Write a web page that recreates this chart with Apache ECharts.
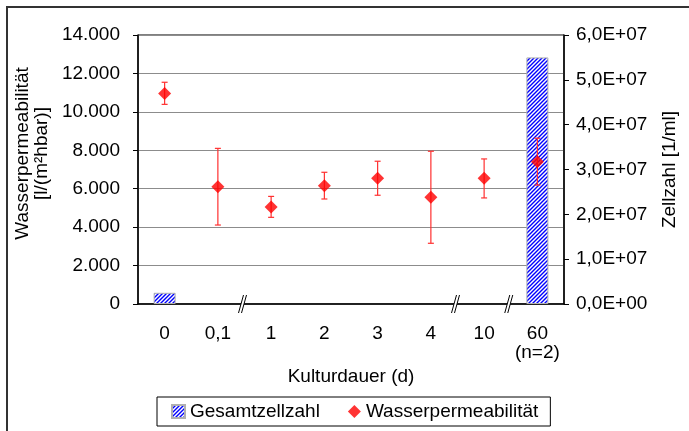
<!DOCTYPE html>
<html>
<head>
    <meta charset="utf-8">
    <title>Kulturdauer</title>
    <script type="text/javascript" src="https://cdn.jsdelivr.net/npm/echarts@6/dist/echarts.min.js"></script>
    <style>
        body { margin: 0; background: #fff; }
        #main { width: 689px; height: 431px; }
    </style>
</head>
<body>
    <div id="main"></div>
    <script type="text/javascript">
        // culture days on the x axis
        var categories = ['0', '0,1', '1', '2', '3', '4', '10', '60\n(n=2)'];
        // water permeability, mean and error bar ends
        var permeability = [10950, 6100, 5050, 6150, 6550, 5550, 6550, 7400];
        var permLow = [10390, 4110, 4510, 5465, 5660, 3160, 5520, 6190];
        var permHigh = [11540, 8100, 5600, 6855, 7430, 7950, 7550, 8630];
        // total cell count (right axis)
        var cellCount = [2.5e6, '-', '-', '-', '-', '-', '-', 5.5e7];
        // axis breaks sit after these category indexes
        var breaks = [1, 5, 6];

        var FONT = 'Liberation Sans, Arial, sans-serif';
        var FS = 19;

        // blue diagonal hatching like the excel fill
        function hatch() {
            var c = document.createElement('canvas');
            c.width = 4; c.height = 4;
            var ctx = c.getContext('2d');
            ctx.fillStyle = '#fff';
            ctx.fillRect(0, 0, 4, 4);
            ctx.strokeStyle = '#0000ff';
            ctx.lineWidth = 1.4;
            ctx.beginPath();
            ctx.moveTo(0, 4); ctx.lineTo(4, 0);
            ctx.moveTo(-1, 1); ctx.lineTo(1, -1);
            ctx.moveTo(3, 5); ctx.lineTo(5, 3);
            ctx.stroke();
            return c;
        }
        var hatchFill = { image: hatch(), repeat: 'repeat' };

        function deNumber(v) {
            return String(v).replace(/\B(?=(\d{3})+(?!\d))/g, '.');
        }
        function sciLabel(v) {
            if (v === 0) return '0,0E+00';
            var e = Math.floor(Math.log10(v) + 1e-9);
            var m = (v / Math.pow(10, e)).toFixed(1).replace('.', ',');
            return m + 'E+' + (e < 10 ? '0' : '') + e;
        }

        var errData = permeability.map(function (v, i) { return [i, permLow[i], permHigh[i]]; });

        var option = {
            animation: false,
            textStyle: { fontFamily: FONT },
            graphic: [{
                type: 'rect',
                shape: { x: 7, y: 7, width: 700, height: 450 },
                style: { fill: 'none', stroke: '#333', lineWidth: 2 },
                silent: true
            }],
            grid: {
                left: 138, right: 125, top: 35, bottom: 127,
                show: true, borderColor: '#000', borderWidth: 1
            },
            legend: {
                left: 157, top: 397,
                padding: [5, 12, 5, 14],
                borderColor: '#000', borderWidth: 1,
                itemWidth: 13, itemHeight: 13, itemGap: 28,
                textStyle: { fontSize: FS, color: '#000', fontFamily: FONT },
                data: [
                    { name: 'Gesamtzellzahl', icon: 'rect' },
                    { name: 'Wasserpermeabilität', icon: 'diamond' }
                ]
            },
            xAxis: {
                type: 'category',
                data: categories,
                name: 'Kulturdauer (d)',
                nameLocation: 'middle',
                nameGap: 62,
                nameTextStyle: { fontSize: FS, color: '#000' },
                axisLine: { lineStyle: { color: '#000', width: 1.5 } },
                axisTick: { interval: 0, length: 5, lineStyle: { color: '#000' } },
                axisLabel: { interval: 0, fontSize: FS, color: '#000', margin: 20, lineHeight: 19 }
            },
            yAxis: [{
                type: 'value',
                min: 0, max: 14000, interval: 2000,
                name: 'Wasserpermeabilität\n[l/(m²hbar)]',
                nameLocation: 'middle',
                nameRotate: 90,
                nameGap: 80,
                nameTextStyle: { fontSize: FS, color: '#000', lineHeight: 19, padding: [0, 0, 0, 32] },
                axisLine: { show: true, lineStyle: { color: '#000', width: 1.5 } },
                axisTick: { show: true, length: 5, lineStyle: { color: '#000' } },
                axisLabel: { fontSize: FS, color: '#000', margin: 18, formatter: deNumber },
                splitLine: { lineStyle: { color: '#8c8c8c', width: 1 } }
            }, {
                type: 'value',
                min: 0, max: 6e7, interval: 1e7,
                name: 'Zellzahl [1/ml]',
                nameLocation: 'middle',
                nameRotate: 90,
                nameGap: 96,
                nameTextStyle: { fontSize: FS, color: '#000' },
                axisLine: { show: true, lineStyle: { color: '#000', width: 1.5 } },
                axisTick: { show: true, length: 5, lineStyle: { color: '#000' } },
                axisLabel: { fontSize: FS, color: '#000', margin: 12, formatter: sciLabel },
                splitLine: { show: false }
            }],
            series: [{
                name: 'Gesamtzellzahl',
                type: 'bar',
                yAxisIndex: 1,
                barWidth: 22,
                data: cellCount,
                itemStyle: { color: hatchFill, borderColor: '#b0b0b0', borderWidth: 1 },
                z: 1
            }, {
                name: 'errors',
                type: 'custom',
                yAxisIndex: 0,
                data: errData,
                z: 3,
                renderItem: function (params, api) {
                    var x = api.value(0);
                    var top = api.coord([x, api.value(2)]);
                    var bot = api.coord([x, api.value(1)]);
                    var st = { stroke: '#ff3030', lineWidth: 1.2 };
                    return {
                        type: 'group',
                        children: [
                            { type: 'line', shape: { x1: top[0], y1: top[1], x2: bot[0], y2: bot[1] }, style: st },
                            { type: 'line', shape: { x1: top[0] - 3, y1: top[1], x2: top[0] + 3, y2: top[1] }, style: st },
                            { type: 'line', shape: { x1: bot[0] - 3, y1: bot[1], x2: bot[0] + 3, y2: bot[1] }, style: st }
                        ]
                    };
                }
            }, {
                name: 'Wasserpermeabilität',
                type: 'scatter',
                yAxisIndex: 0,
                symbol: 'diamond',
                symbolSize: 13,
                data: permeability,
                itemStyle: { color: '#ff0000' },
                z: 4
            }, {
                name: 'breaks',
                type: 'custom',
                yAxisIndex: 0,
                data: breaks.map(function (b) { return [b, 0]; }),
                z: 5,
                clip: false,
                renderItem: function (params, api) {
                    var i = api.value(0);
                    var a = api.coord([i, 0]);
                    var b = api.coord([i + 1, 0]);
                    var x = (a[0] + b[0]) / 2, y = a[1];
                    var st = { stroke: '#000', lineWidth: 1 };
                    return {
                        type: 'group',
                        children: [
                            { type: 'polygon', shape: { points: [[x - 6, y + 9], [x - 1, y - 9], [x + 2, y - 9], [x - 3, y + 9]] }, style: { fill: '#fff' } },
                            { type: 'line', shape: { x1: x - 6, y1: y + 9, x2: x - 1, y2: y - 9 }, style: st },
                            { type: 'line', shape: { x1: x - 3, y1: y + 9, x2: x + 2, y2: y - 9 }, style: st }
                        ]
                    };
                }
            }]
        };

        echarts.init(document.getElementById('main')).setOption(option);
    </script>
</body>
</html>
